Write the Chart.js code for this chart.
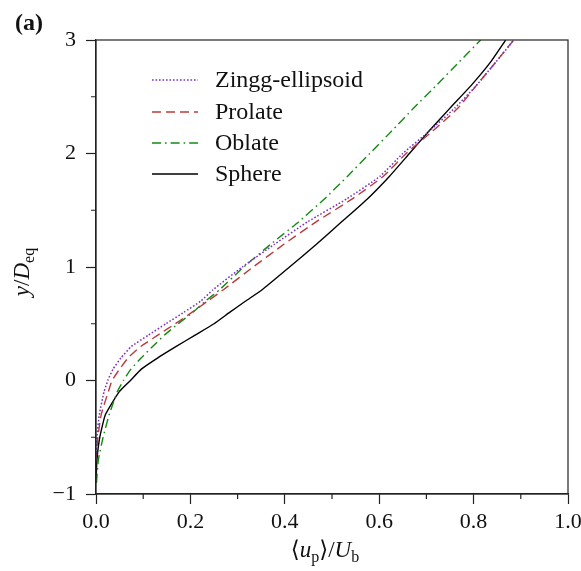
<!DOCTYPE html>
<html>
<head>
<meta charset="utf-8">
<script src="https://cdn.jsdelivr.net/npm/chart.js@4/dist/chart.umd.min.js"></script>
<style>
html,body{margin:0;padding:0;background:#fff;}
#wrap{width:581px;height:571px;position:relative;}
</style>
</head>
<body>
<div id="wrap"><canvas id="c" width="581" height="571"></canvas></div>
<script>
// y/D_eq levels at which each profile is read
const yLevels = [-0.9,-0.7,-0.5,-0.3,-0.1,0,0.1,0.2,0.3,0.4,0.5,0.6,0.7,0.8,1.0,1.2,1.4,1.6,1.8,2.0,2.2,2.4,2.6,2.8,3.0];
// <u_p>/U_b for each shape (null = no data at that level)
const zinggU   = [null,0.000,0.002,0.007,0.017,0.025,0.036,0.053,0.075,0.111,0.148,0.186,0.222,0.248,0.310,0.378,0.449,0.531,0.602,0.650,0.707,0.760,0.806,0.846,0.885];
const prolateU = [null,0.000,0.004,0.011,0.026,0.034,0.050,0.068,0.095,0.131,0.168,0.203,0.237,0.270,0.333,0.398,0.467,0.543,0.609,0.657,0.714,0.767,0.806,0.846,0.885];
const oblateU  = [0.001,0.005,0.015,0.028,0.045,0.058,0.074,0.096,0.120,0.145,0.174,0.205,0.232,0.262,0.313,0.370,0.430,0.484,0.533,0.580,0.627,0.673,0.721,0.768,0.815];
const sphereU  = [0.000,0.002,0.008,0.020,0.049,0.073,0.096,0.131,0.170,0.210,0.250,0.283,0.317,0.352,0.410,0.467,0.521,0.575,0.622,0.664,0.706,0.750,0.795,0.835,0.868];
const seriesNames = ['Zingg-ellipsoid','Prolate','Oblate','Sphere'];
const xTicks = [0.0,0.2,0.4,0.6,0.8,1.0];
const yTicks = [-1,0,1,2,3];
const xMinor = [0.1,0.3,0.5,0.7,0.9];
const yMinor = [-0.5,0.5,1.5,2.5];

function pts(u){ const out=[]; for(let i=0;i<yLevels.length;i++){ if(u[i]!==null) out.push({x:u[i],y:yLevels[i]}); } return out; }

const styles = [
  {color:'#7a2fc0', dash:[1.6,1.9], width:1.5},
  {color:'#b83c3c', dash:[9,5], width:1.4},
  {color:'#138a13', dash:[9,4,1.6,4], width:1.4},
  {color:'#000000', dash:[], width:1.4}
];
const allU = [zinggU, prolateU, oblateU, sphereU];

const SERIF = '"Liberation Serif","DejaVu Serif",serif';

const decor = {
  id:'decor',
  afterDraw(chart){
    const ctx = chart.ctx, a = chart.chartArea;
    const xs = chart.scales.x, ys = chart.scales.y;
    ctx.save();
    // frame
    ctx.strokeStyle = '#222'; ctx.lineWidth = 1.2; ctx.setLineDash([]);
    ctx.strokeRect(a.left, a.top, a.right-a.left, a.bottom-a.top);
    // minor ticks
    ctx.beginPath();
    xMinor.forEach(v=>{ const p = xs.getPixelForValue(v); ctx.moveTo(p, a.bottom); ctx.lineTo(p, a.bottom+5); });
    yMinor.forEach(v=>{ const p = ys.getPixelForValue(v); ctx.moveTo(a.left, p); ctx.lineTo(a.left-5, p); });
    ctx.stroke();
    // legend
    const lx0 = 152, lx1 = 198, tx = 215, rows = [80,112,143,174];
    ctx.font = '24px ' + SERIF; ctx.textBaseline = 'middle'; ctx.fillStyle = '#111';
    styles.forEach((s,i)=>{
      ctx.strokeStyle = s.color; ctx.lineWidth = s.width; ctx.setLineDash(s.dash);
      ctx.beginPath(); ctx.moveTo(lx0, rows[i]); ctx.lineTo(lx1, rows[i]); ctx.stroke();
      ctx.fillText(seriesNames[i], tx, rows[i]+1);
    });
    ctx.setLineDash([]);
    // (a)
    ctx.font = 'bold 24px ' + SERIF; ctx.textBaseline = 'alphabetic'; ctx.textAlign = 'left';
    ctx.fillText('(a)', 15, 30);
    // x title: <u_p>/U_b
    const parts = [
      {t:'\u27E8', f:'23px '+SERIF, dy:0},
      {t:'u', f:'italic 23px '+SERIF, dy:0},
      {t:'p', f:'16px '+SERIF, dy:5},
      {t:'\u27E9/', f:'23px '+SERIF, dy:0},
      {t:'U', f:'italic 23px '+SERIF, dy:0},
      {t:'b', f:'16px '+SERIF, dy:5}
    ];
    function drawParts(parts, cx, base){
      let w = 0; parts.forEach(p=>{ ctx.font = p.f; w += ctx.measureText(p.t).width; });
      let x = cx - w/2;
      parts.forEach(p=>{ ctx.font = p.f; ctx.fillText(p.t, x, base + p.dy); x += ctx.measureText(p.t).width; });
    }
    drawParts(parts, 325, 557);
    // y title: y/D_eq rotated
    ctx.save();
    ctx.translate(29, 272); ctx.rotate(-Math.PI/2);
    drawParts([
      {t:'y', f:'italic 23px '+SERIF, dy:0},
      {t:'/', f:'23px '+SERIF, dy:0},
      {t:'D', f:'italic 23px '+SERIF, dy:0},
      {t:'eq', f:'16px '+SERIF, dy:5}
    ], 0, 0);
    ctx.restore();
    ctx.restore();
  }
};

new Chart(document.getElementById('c'), {
  type:'scatter',
  data:{
    datasets: allU.map((u,i)=>({
      label: seriesNames[i],
      data: pts(u),
      showLine:true,
      borderColor: styles[i].color,
      borderWidth: styles[i].width,
      borderDash: styles[i].dash,
      pointRadius:0,
      tension:0.15,
      fill:false
    }))
  },
  options:{
    responsive:false,
    animation:false,
    layout:{padding:{left:0, right:13, top:40, bottom:0}},
    plugins:{legend:{display:false}, tooltip:{enabled:false}},
    scales:{
      x:{
        type:'linear', min:0, max:1,
        afterBuildTicks(s){ s.ticks = xTicks.map(v=>({value:v})); },
        afterFit(s){ s.height = 77; s.paddingRight = 0; s.paddingLeft = 0; },
        ticks:{ color:'#111', font:{family:SERIF, size:22}, padding:5,
          callback:(v)=>Number(v).toFixed(1), maxRotation:0 },
        grid:{ drawOnChartArea:false, tickLength:10, tickColor:'#222', tickWidth:1.2 },
        border:{ display:true, color:'#222', width:1.2 }
      },
      y:{
        type:'linear', min:-1, max:3,
        afterBuildTicks(s){ s.ticks = yTicks.map(v=>({value:v})); },
        afterFit(s){ s.width = 96; s.paddingTop = 0; s.paddingBottom = 0; },
        ticks:{ color:'#111', font:{family:SERIF, size:22}, padding:10,
          callback:(v)=>(v<0?'\u2212':'')+Math.abs(v) },
        grid:{ drawOnChartArea:false, tickLength:10, tickColor:'#222', tickWidth:1.2 },
        border:{ display:true, color:'#222', width:1.2 }
      }
    }
  },
  plugins:[decor]
});
</script>
</body>
</html>
